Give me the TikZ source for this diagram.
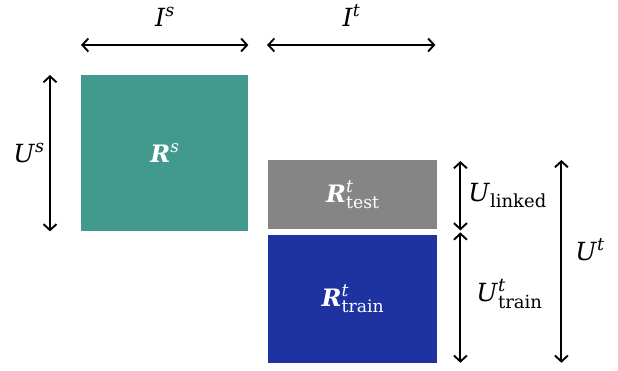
\documentclass[tikz,border=0pt]{standalone}
\usepackage{fontspec}
\setmainfont{DejaVu Serif}
\usepackage{xcolor}
\usetikzlibrary{arrows.meta,positioning}
\definecolor{SrcTeal}{HTML}{429A8E}
\definecolor{TestGray}{HTML}{858585}
\definecolor{TrainBlue}{HTML}{1E32A2}
% base letter with a raised and/or lowered index
\newcommand{\supx}[2]{#1\raisebox{.4em}{\scalebox{.7}{#2}}}
\newcommand{\subx}[2]{#1\raisebox{-.26em}{\scalebox{.72}{#2}}}
\newcommand{\supsubx}[3]{#1\rlap{\raisebox{.42em}{\scalebox{.72}{#2}}}\raisebox{-.26em}{\scalebox{.72}{#3}}}

\begin{document}
\begin{tikzpicture}[
	x=1pt, y=-1pt,
	block/.style={inner sep=0pt, text=white, font=\fontsize{24}{28}\selectfont},
	dim/.style={{Straight Barb[length=6pt,width=13pt]}-{Straight Barb[length=6pt,width=13pt]}, line width=1.9pt},
	lab/.style={font=\fontsize{25}{30}\selectfont, inner sep=3pt}
]
\useasboundingbox (0,0) rectangle (618,370);

\node[block, fill=SrcTeal, minimum width=167pt, minimum height=156pt, anchor=north west] (rs) at (81,75)
	{\supx{\textbf{\textit{R}}}{\textit{s}}};
\node[block, fill=TestGray, minimum width=169pt, minimum height=69pt, anchor=north west] (test) at (268,160)
	{\supsubx{\textbf{\textit{R}}}{\textit{t}}{test}};
\node[block, fill=TrainBlue, minimum width=169pt, minimum height=128pt, below=5pt of test] (train)
	{\supsubx{\textbf{\textit{R}}}{\textit{t}}{train}};

% item dimensions
\draw[dim] ([yshift=30pt]rs.north west) -- ([yshift=30pt]rs.north east)
	node[lab, midway, above=15pt] (is) {\supx{\textit{I}}{\textit{s}}};
\draw[dim] ([yshift=115pt,xshift=-1pt]test.north west) -- ([yshift=115pt,xshift=-2pt]test.north east)
	node[lab, midway, above=15pt] (it) {\supx{\textit{I}}{\textit{t}}};

% user dimensions
\draw[dim] ([xshift=-31pt]rs.north west) -- ([xshift=-31pt]rs.south west)
	node[lab, midway, left=2pt] (us) {\supx{\textit{U}}{\textit{s}}};
\draw[dim] ([xshift=23pt,yshift=-1pt]test.north east) -- ([xshift=23pt,yshift=-1pt]test.south east)
	node[lab, midway, right=4pt] (ul) {\subx{\textit{U}}{linked}};
\draw[dim] ([xshift=23pt,yshift=2pt]train.north east) -- ([xshift=23pt]train.south east)
	node[lab, midway, right=12pt, yshift=4pt] (utr) {\supsubx{\textit{U}}{\textit{t}}{train}};
\draw[dim] ([xshift=124pt]test.north east) -- ([xshift=124pt]train.south east)
	node[lab, midway, right=10pt, yshift=12pt] (ut) {\supx{\textit{U}}{\textit{t}}};
\end{tikzpicture}
\end{document}
